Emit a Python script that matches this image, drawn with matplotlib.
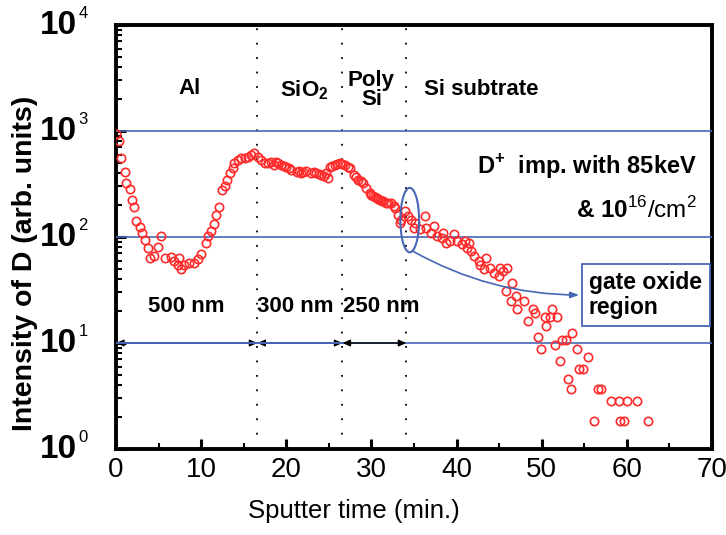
import matplotlib
matplotlib.use('Agg')
import matplotlib.pyplot as plt
from matplotlib.patches import Ellipse, Rectangle
from matplotlib.transforms import blended_transform_factory
from matplotlib.ticker import FixedLocator, LogLocator, NullFormatter

plt.rcParams['font.family'] = ['Liberation Sans', 'DejaVu Sans']
plt.rcParams['mathtext.fontset'] = 'custom'
plt.rcParams['mathtext.rm'] = 'Liberation Sans'
plt.rcParams['mathtext.bf'] = 'Liberation Sans:bold'

# sputter time (min.) and D intensity
time = [0.0, 0.4, 0.6, 1.0, 1.2, 1.7, 1.9, 2.15, 2.35, 2.85, 3.0, 3.35, 3.7, 4.05,
        4.5, 4.9, 5.3, 5.7, 6.5, 6.85, 7.25, 7.45, 7.65, 8.0, 8.6, 9.2, 9.6, 10.0,
        10.6, 10.8, 11.2, 11.55, 11.75, 12.05, 12.45, 12.75, 13.05, 13.35, 13.7,
        13.9, 14.3, 14.7, 15.1, 15.5, 15.9, 16.25, 16.65, 17.05, 17.45, 17.85,
        18.25, 18.6, 18.8, 19.0, 19.4, 19.7, 20.0, 20.3, 20.6, 21.2, 21.5, 21.75,
        22.0, 22.35, 22.95, 23.2, 23.5, 23.8, 24.1, 24.4, 24.7, 24.9, 25.1, 25.4,
        25.7, 26.0, 26.3, 26.6, 26.85, 27.2, 27.45, 28.0, 28.2, 28.45, 28.75, 29.0,
        29.4, 29.8, 30.0, 30.2, 30.4, 30.6, 30.8, 31.0, 31.2, 31.4, 31.75, 32.0,
        32.35, 32.6, 32.75, 33.15, 33.3, 33.5, 33.9, 34.3, 34.7, 35.05, 35.1,
        35.65, 36.25, 36.45, 37.05, 37.3, 37.65, 38.25, 38.45, 38.8, 39.2, 39.65,
        40.0, 40.6, 40.95, 41.2, 41.5, 41.75, 42.1, 42.6, 42.7, 43.2, 43.5, 43.9,
        44.35, 44.95, 45.05, 45.5, 45.75, 45.95, 46.35, 46.55, 46.95, 47.15, 47.95,
        48.35, 48.95, 49.2, 49.55, 49.95, 50.35, 50.5, 50.95, 51.2, 51.6, 51.75,
        52.2, 52.4, 52.9, 53.05, 53.45, 53.6, 54.1, 54.4, 54.8, 55.4, 56.1, 56.6,
        57.0, 58.1, 59.1, 59.2, 59.7, 60.0, 61.2, 62.5]
intensity = [944, 807, 559, 414, 322, 285, 222, 191, 141, 124, 110, 93, 79, 64,
             66, 81, 102, 64, 65, 60, 54, 63, 50, 54, 57, 57, 62, 69,
             87, 102, 114, 133, 163, 191, 279, 300, 346, 399, 444,
             495, 532, 551, 559, 571, 592, 614, 571, 532, 495, 495,
             513, 478, 513, 495, 478, 470, 461, 445, 429, 414, 420, 399,
             410, 420, 399, 410, 399, 395, 385, 380, 399, 358, 461, 470,
             478, 490, 495, 490, 478, 460, 444, 385, 370, 346, 335, 322,
             289, 259, 250, 242, 238, 233, 228, 225, 220, 217, 209, 210,
             209, 195, 188, 163, 135, 146, 175, 157, 146, 121, 136,
             119, 157, 121, 109, 127, 102, 98, 109, 88, 92, 107,
             92, 86, 92, 79, 88, 74, 66, 60, 54, 50, 64, 51,
             46, 43, 51, 48, 31, 51, 25, 37, 28, 21, 25,
             16, 21, 19, 11.4, 8.7, 17.7, 14.5, 17.7, 21, 9.5, 17.7,
             6.7, 10.6, 10.6, 4.6, 3.7, 12.4, 8.7, 5.7, 5.7, 7.4, 1.85, 3.7,
             3.7, 2.86, 2.86, 1.85, 1.85, 2.86, 2.86, 1.85]

layer_edges = [0, 16.6, 26.6, 34.1]
layer_thick = ['500 nm', '300 nm', '250 nm']
thick_pos = [8.3, 21.0, 31.1]
ref_levels = [10, 100, 1000]
xticks = [0, 10, 20, 30, 40, 50, 60, 70]
ytick_exp = [0, 1, 2, 3, 4]

blue = '#4766b4'

fig = plt.figure(figsize=(7.26, 5.35), dpi=100)
ax = fig.add_axes([0.1598, 0.1607, 0.8209, 0.7925])
ax.set_yscale('log')
ax.set_xlim(0, 70)
ax.set_ylim(1, 1e4)

for lv in ref_levels:
    ax.axhline(lv, color=blue, lw=1.2, zorder=3)
for xe in layer_edges[1:]:
    ax.axvline(xe, color='black', lw=1.3, ls=(0, (1, 7)), zorder=1)

ax.plot(time, intensity, 'o', mfc='none', mec='#ff2a2a', ms=6, mew=1.2,
        zorder=5)

# thickness arrows along 10^1
for i, lab in enumerate(layer_thick):
    x0, x1 = layer_edges[i], layer_edges[i + 1]
    ax.annotate('', xy=(x0, 10), xytext=(x1, 10),
                arrowprops=dict(arrowstyle='<|-|>,head_length=0.45,head_width=0.2',
                                color='black', lw=1.0, shrinkA=0, shrinkB=0),
                zorder=2 if i < 2 else 4)
    ax.text(thick_pos[i], 22, lab, ha='center', va='center',
            fontsize=16, fontweight='bold')
ax.axhline(10, xmin=0, xmax=layer_edges[2] / 70, color=blue, lw=1.2, zorder=3)

# layer names
ax.text(8.6, 2500, 'Al', ha='center', va='center', fontsize=16, fontweight='bold')
ax.text(22.1, 2450, r'SiO$_{\mathbf{2}}$', ha='center', va='center',
        fontsize=16, fontweight='bold')
ax.text(30.0, 2450, 'Poly\nSi', ha='center', va='center', fontsize=16,
        fontweight='bold', linespacing=0.9)
ax.text(42.9, 2450, 'Si subtrate', ha='center', va='center', fontsize=16,
        fontweight='bold')

ax.text(68.2, 460, r'D$^{\mathbf{+}}$  imp. with 85keV', ha='right', va='center',
        fontsize=17, fontweight='bold')
ax.text(68.2, 180, r'& $\mathbf{10}^{16}\mathrm{/cm}^{2}$', ha='right',
        va='center', fontsize=17.5, fontweight='bold')

# gate oxide ellipse + note
tr = blended_transform_factory(ax.transData, ax.transAxes)
ax.add_patch(Ellipse((34.5, 0.54), 2.2, 0.152, transform=tr, fill=False,
                     ec=blue, lw=1.5, zorder=6))
ax.annotate('', xy=(54.4, 28.4), xytext=(34.8, 74),
            arrowprops=dict(arrowstyle='-|>,head_length=0.5,head_width=0.18',
                            color=blue, lw=1.2, shrinkA=0, shrinkB=0,
                            connectionstyle='arc3,rad=0.13'), zorder=6)
ax.add_patch(Rectangle((0.782, 0.290), 0.214, 0.146, transform=ax.transAxes,
                       fc='white', ec=blue, lw=1.3, zorder=7))
ax.text(0.793, 0.363, 'gate oxide\nregion', transform=ax.transAxes, ha='left',
        va='center', fontsize=16.5, fontweight='bold', linespacing=1.15,
        zorder=8)

# axes styling
for sp in ax.spines.values():
    sp.set_linewidth(2.8)
ax.xaxis.set_major_locator(FixedLocator(xticks))
ax.xaxis.set_minor_locator(FixedLocator([5, 15, 25, 35, 45, 55, 65]))
ax.set_xticklabels([str(v) for v in xticks])
ax.tick_params(axis='x', which='major', direction='in', length=7, width=2.2,
               labelsize=20, pad=6, top=False)
ax.tick_params(axis='x', which='minor', direction='in', length=4, width=1.5,
               top=False)
ax.yaxis.set_major_locator(FixedLocator([10.0 ** e for e in ytick_exp]))
ax.yaxis.set_minor_locator(LogLocator(base=10, subs=range(2, 10)))
ax.yaxis.set_minor_formatter(NullFormatter())
ax.set_yticklabels([])
ax.tick_params(axis='y', which='major', direction='in', length=7, width=2.2,
               right=False)
ax.tick_params(axis='y', which='minor', direction='in', length=4, width=1.5,
               right=False)

for e in ytick_exp:
    ax.annotate('10', xy=(0, 10.0 ** e), xycoords=('axes fraction', 'data'),
                xytext=(-28, 0), textcoords='offset points', ha='right',
                va='center', fontsize=24, fontweight='bold')
    ax.annotate(str(e), xy=(0, 10.0 ** e), xycoords=('axes fraction', 'data'),
                xytext=(-27, 8), textcoords='offset points', ha='left',
                va='center', fontsize=12)

fig.text(25 / 726, 1 - 263 / 535, 'Intensity of D (arb. units)', rotation=90,
         ha='center', va='center', fontsize=20.5, fontweight='bold')
fig.text(354 / 726, 1 - 511 / 535, 'Sputter time (min.)', ha='center',
         va='center', fontsize=18.5)

fig.savefig('out.png', dpi=100)
